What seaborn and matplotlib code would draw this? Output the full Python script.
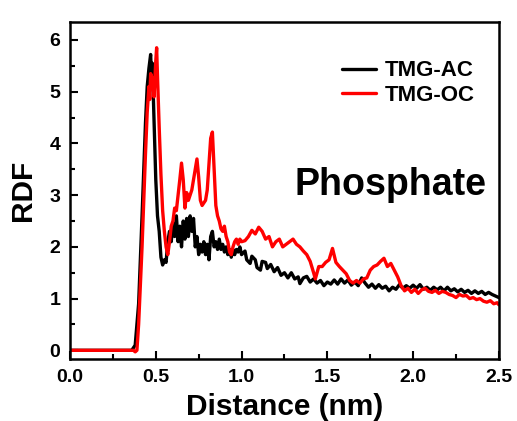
import numpy as np
import pandas as pd
import matplotlib
matplotlib.use("Agg")
import matplotlib.pyplot as plt
import seaborn as sns
from matplotlib.ticker import MultipleLocator

ac_x = [0.00, 0.36, 0.38, 0.40, 0.42, 0.44, 0.45, 0.46, 0.47, 0.475, 0.48, 0.49, 0.50, 0.51, 0.52, 0.53,
        0.54, 0.55, 0.56, 0.57, 0.58, 0.59, 0.60, 0.61, 0.62, 0.63, 0.64, 0.65, 0.66, 0.67, 0.68, 0.69,
        0.70, 0.71, 0.72, 0.73, 0.74, 0.75, 0.76, 0.77, 0.78, 0.79, 0.80, 0.81, 0.82, 0.83, 0.84, 0.85,
        0.86, 0.87, 0.88, 0.89, 0.90, 0.91, 0.92, 0.93, 0.94, 0.95, 0.96, 0.97, 0.98, 0.99, 1.00, 1.02,
        1.03, 1.05, 1.06, 1.08, 1.09, 1.11, 1.12, 1.14, 1.15, 1.17, 1.19, 1.21, 1.23, 1.25, 1.27, 1.29,
        1.31, 1.33, 1.34, 1.36, 1.38, 1.40, 1.42, 1.44, 1.46, 1.48, 1.50, 1.52, 1.54, 1.56, 1.58, 1.60,
        1.62, 1.64, 1.66, 1.68, 1.70, 1.72, 1.74, 1.76, 1.78, 1.80, 1.82, 1.84, 1.86, 1.88, 1.90, 1.92,
        1.94, 1.96, 1.98, 2.00, 2.02, 2.04, 2.06, 2.08, 2.10, 2.12, 2.14, 2.16, 2.18, 2.20, 2.22, 2.24,
        2.26, 2.28, 2.30, 2.32, 2.34, 2.36, 2.38, 2.40, 2.42, 2.44, 2.46, 2.48, 2.50]
ac_y = [0, 0, 0.1, 0.9, 2.6, 4.4, 5.1, 5.45, 5.72, 5.3, 5.55, 4.4, 3.3, 2.6, 2.3, 1.8,
        1.65, 1.75, 1.7, 2.1, 2.3, 2.1, 2.45, 2.2, 2.6, 2.1, 2.4, 2.0, 2.5, 2.15, 2.55, 2.2,
        2.6, 2.3, 2.55, 2.0, 2.2, 1.85, 2.05, 1.9, 2.1, 1.85, 2.05, 1.75, 2.2, 2.3, 2.0, 2.1,
        1.95, 2.15, 1.95, 2.05, 1.9, 2.0, 1.85, 1.95, 1.8, 1.95, 1.85, 1.95, 1.9, 2.0, 1.85, 1.92,
        1.75, 1.68, 1.82, 1.75, 1.6, 1.55, 1.72, 1.7, 1.58, 1.66, 1.52, 1.6, 1.45, 1.5, 1.4, 1.5,
        1.38, 1.42, 1.29, 1.4, 1.43, 1.32, 1.38, 1.3, 1.35, 1.25, 1.32, 1.28, 1.36, 1.28, 1.38, 1.3,
        1.36, 1.26, 1.32, 1.25, 1.4, 1.3, 1.22, 1.28, 1.2, 1.27, 1.2, 1.24, 1.15, 1.22, 1.18, 1.27,
        1.2, 1.25, 1.2, 1.26, 1.2, 1.27, 1.18, 1.22, 1.16, 1.22, 1.17, 1.22, 1.15, 1.22, 1.15, 1.19,
        1.13, 1.18, 1.12, 1.16, 1.1, 1.15, 1.1, 1.14, 1.08, 1.12, 1.08, 1.05, 1.02]

oc_x = [0.00, 0.37, 0.38, 0.39, 0.40, 0.42, 0.44, 0.45, 0.46, 0.465, 0.47, 0.48, 0.49, 0.50, 0.505, 0.51,
        0.52, 0.53, 0.54, 0.55, 0.56, 0.57, 0.58, 0.59, 0.60, 0.61, 0.62, 0.63, 0.64, 0.65, 0.66, 0.67,
        0.68, 0.69, 0.70, 0.71, 0.72, 0.73, 0.74, 0.75, 0.76, 0.77, 0.78, 0.79, 0.80, 0.81, 0.82, 0.83,
        0.84, 0.85, 0.86, 0.87, 0.88, 0.89, 0.90, 0.91, 0.92, 0.93, 0.94, 0.95, 0.96, 0.97, 0.98, 0.99,
        1.00, 1.02, 1.04, 1.06, 1.08, 1.10, 1.12, 1.14, 1.16, 1.18, 1.20, 1.22, 1.24, 1.26, 1.28, 1.30,
        1.32, 1.34, 1.36, 1.38, 1.40, 1.42, 1.43, 1.45, 1.47, 1.49, 1.51, 1.53, 1.55, 1.57, 1.59, 1.61,
        1.63, 1.65, 1.67, 1.69, 1.71, 1.73, 1.75, 1.77, 1.79, 1.81, 1.83, 1.85, 1.87, 1.89, 1.91, 1.93,
        1.95, 1.97, 1.99, 2.01, 2.03, 2.05, 2.07, 2.09, 2.11, 2.13, 2.15, 2.17, 2.19, 2.21, 2.23, 2.25,
        2.27, 2.29, 2.31, 2.33, 2.35, 2.37, 2.39, 2.41, 2.43, 2.45, 2.47, 2.49, 2.50]
oc_y = [0, 0, -0.03, 0.0, 0.5, 2.0, 3.8, 4.6, 5.1, 4.85, 5.35, 5.25, 4.9, 5.6, 5.85, 5.3,
        4.3, 3.4, 2.7, 2.3, 2.0, 1.85, 2.1, 2.4, 2.5, 2.75, 2.7, 3.0, 3.3, 3.62, 3.3, 2.75,
        3.05, 2.9, 3.0, 3.1, 3.3, 3.5, 3.7, 3.35, 2.9, 2.8, 2.85, 2.9, 3.1, 3.6, 4.1, 4.22,
        3.5, 2.8, 2.6, 2.5, 2.35, 2.3, 2.4, 2.2, 2.1, 1.9, 1.85, 2.0, 2.1, 2.15, 2.05, 2.15,
        2.1, 2.12, 2.2, 2.32, 2.25, 2.38, 2.3, 2.15, 2.2, 2.0, 2.1, 2.15, 2.0, 2.05, 2.1, 2.15,
        2.05, 2.0, 1.92, 1.85, 1.72, 1.5, 1.38, 1.62, 1.62, 1.7, 1.75, 1.97, 1.7, 1.62, 1.55, 1.48,
        1.35, 1.3, 1.35, 1.3, 1.38, 1.4, 1.55, 1.62, 1.65, 1.72, 1.78, 1.62, 1.68, 1.55, 1.42, 1.25,
        1.15, 1.2, 1.12, 1.18, 1.1, 1.17, 1.2, 1.14, 1.12, 1.16, 1.1, 1.14, 1.12, 1.08, 1.06, 1.02,
        1.08, 1.05, 1.06, 1.0, 1.02, 0.98, 1.0, 0.95, 0.93, 0.96, 0.9, 0.92, 0.88]

series_names = ["TMG-AC", "TMG-OC"]
x_ticks = [0.0, 0.5, 1.0, 1.5, 2.0, 2.5]
y_ticks = [0, 1, 2, 3, 4, 5, 6]

df = pd.concat([
    pd.DataFrame({"Distance": ac_x, "RDF": ac_y, "Series": series_names[0]}),
    pd.DataFrame({"Distance": oc_x, "RDF": oc_y, "Series": series_names[1]}),
], ignore_index=True)

sns.set_style("ticks", {"axes.edgecolor": "black", "text.color": "black",
                        "axes.labelcolor": "black", "xtick.color": "black",
                        "ytick.color": "black"})
plt.rcParams["font.family"] = ["Liberation Sans", "DejaVu Sans"]
plt.rcParams["font.weight"] = "bold"

fig = plt.figure(figsize=(5.17, 4.21), dpi=100)
ax = fig.add_axes([0.1354, 0.147, 0.8296, 0.801])

sns.lineplot(data=df, x="Distance", y="RDF", hue="Series", estimator=None, sort=False,
             palette={"TMG-AC": "black", "TMG-OC": "#ff0000"}, linewidth=2.4, ax=ax)

ax.set_xlim(0, 2.5)
ax.set_ylim(-0.17, 6.35)
ax.set_xticks(x_ticks)
ax.set_xticklabels([f"{v:.1f}" for v in x_ticks])
ax.set_yticks(y_ticks)
ax.xaxis.set_minor_locator(MultipleLocator(0.25))
ax.yaxis.set_minor_locator(MultipleLocator(0.5))
ax.tick_params(which="major", direction="in", length=6, width=1.5, labelsize=14, pad=7)
ax.tick_params(which="minor", direction="in", length=3.5, width=1.5)
for lab in ax.get_xticklabels() + ax.get_yticklabels():
    lab.set_fontweight("bold")
for s in ax.spines.values():
    s.set_linewidth(1.8)
    s.set_color("black")
    s.set_visible(True)

ax.set_xlabel("Distance (nm)", fontsize=21.5, fontweight="bold", labelpad=5)
ax.set_ylabel("RDF", fontsize=21.5, fontweight="bold", labelpad=9)

ax.text(0.972, 0.516, "Phosphate", transform=ax.transAxes, ha="right", va="center",
        fontsize=27, fontweight="bold")

leg = ax.legend(loc="upper right", bbox_to_anchor=(0.99, 0.945), frameon=False,
                fontsize=16, handlelength=1.5, handletextpad=0.4, labelspacing=0.15)
for t in leg.get_texts():
    t.set_fontweight("bold")
for l in leg.get_lines():
    l.set_linewidth(2.4)

fig.savefig("out.png", dpi=100)
